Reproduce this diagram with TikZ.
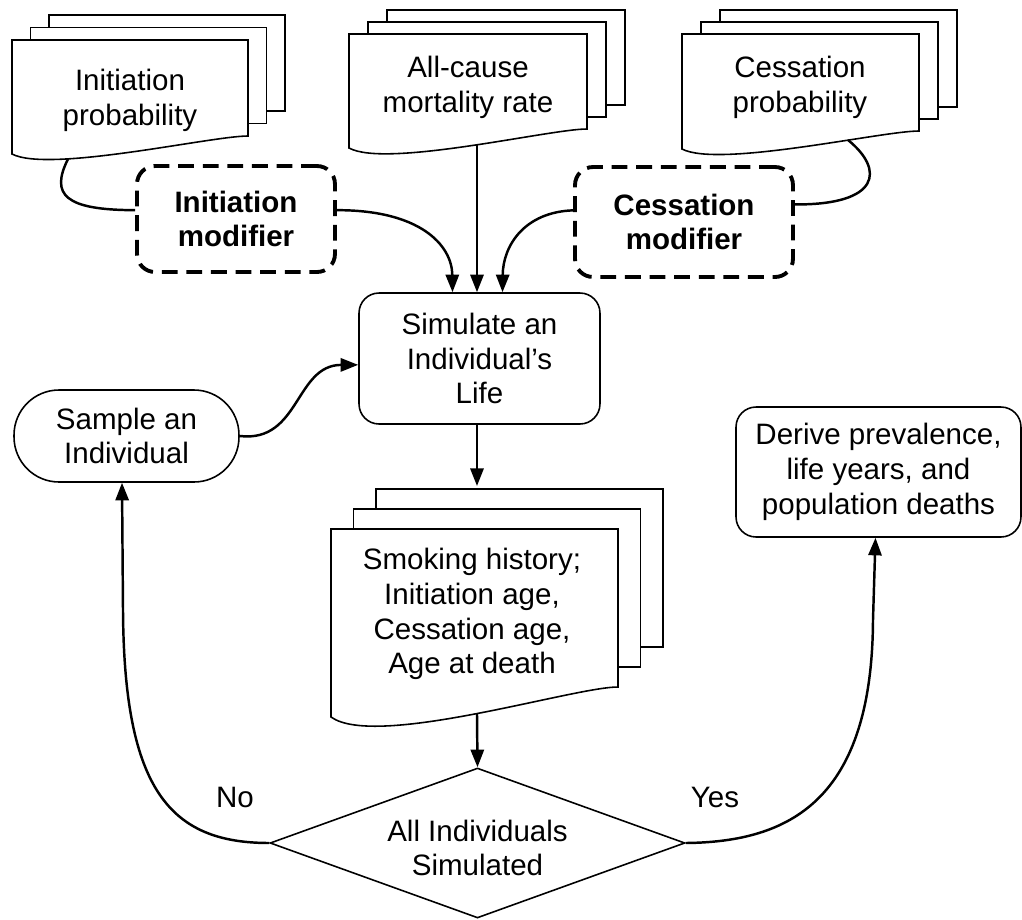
\documentclass[tikz,border=0pt]{standalone}
\usepackage{fontspec}
\setmainfont{Liberation Sans}
\usepackage{xcolor}
\usetikzlibrary{arrows.meta,shapes.geometric}

\tikzset{
    sheet/.style={draw, line width=0.9pt, fill=white},
    txt/.style={align=center},
    box/.style={draw, line width=0.9pt, rounded corners=0.4cm, align=center, inner sep=0pt},
    modbox/.style={draw, line width=2.2pt, dash pattern=on 9pt off 5pt, rounded corners=0.36cm,
        align=center, inner sep=0pt, font=\fontsize{16.8}{19.8}\selectfont\bfseries},
    link/.style={line width=1.4pt},
    flow/.style={line width=1.4pt, -{Triangle[length=10pt, width=7.5pt]}}
}

% #1,#2 top left of the front sheet, #3,#4 right end of its wavy bottom,
% #5,#6 shift of each sheet behind it, #7 depth of the wave
\newcommand{\docstack}[7]{%
    \draw[sheet] ({#1+2*(#5)},{#2+2*(#6)}) rectangle ({#3+2*(#5)},{#4+2*(#6)});
    \draw[sheet] ({#1+(#5)},{#2+(#6)}) rectangle ({#3+(#5)},{#4+(#6)});
    \draw[sheet] (#1,#2) -- (#3,#2) -- (#3,#4)
        .. controls ({#3-0.156*(#3-#1)},#4) and ({#1+0.156*(#3-#1)},{#4+2.07*(#7)}) .. (#1,{#4+(#7)}) -- cycle;
}

\begin{document}
\begin{tikzpicture}[x=0.02cm, y=-0.02cm, font=\fontsize{16.8}{19.8}\selectfont]
    \useasboundingbox (0,0) rectangle (1022,920);

    \docstack{12}{40}{248}{136}{18.5}{-12.5}{18}
    \docstack{349}{34}{587}{129}{19}{-12}{19}
    \docstack{682}{34}{919}{131}{19}{-12}{18}
    \docstack{331}{529}{618}{687}{22.5}{-20}{30}

    \node[txt] (inip) at (130,100) {Initiation\\probability};
    \node[txt] (allp) at (468,87) {All-cause\\mortality rate};
    \node[txt] (cesp) at (800,87) {Cessation\\probability};
    \node[txt] (outp) at (472,614) {Smoking history;\\Initiation age,\\Cessation age,\\Age at death};

    \coordinate (inip-out) at (68,159);
    \coordinate (allp-out) at (477,144);
    \coordinate (cesp-out) at (848,140);
    \coordinate (outp-in) at (477,486);
    \coordinate (outp-out) at (477,714);

    \node[modbox, minimum width=3.96cm, minimum height=2.12cm] (inimod) at (236,219) {Initiation\\modifier};
    \node[modbox, minimum width=4.36cm, minimum height=2.2cm] (cesmod) at (684,222) {Cessation\\modifier};

    \node[box, minimum width=4.82cm, minimum height=2.62cm] (sim) at (479.5,358.5) {Simulate an\\Individual's\\Life};
    \node[box, rounded corners=0.9cm, minimum width=4.5cm, minimum height=1.84cm] (smp) at (126.5,436) {Sample an\\Individual};
    \node[box, minimum width=5.7cm, minimum height=2.6cm] (der) at (878.5,472) {Derive prevalence,\\life years, and\\population deaths};

    \node[draw, diamond, line width=0.9pt, inner sep=0pt, minimum width=8.3cm, minimum height=3cm] (dec) at (477.5,843) {};
    \node[txt] (dect) at (477.5,848) {All Individuals\\Simulated};

    \node (no) at (235,797) {No};
    \node (yes) at (715,797) {Yes};

    \draw[link] (inip-out) .. controls (50,195) and (65,210) .. (inimod.175);
    \draw[link] (cesp-out) .. controls (885,170) and (880,205) .. (cesmod.9);

    \draw[flow] (inimod.5) .. controls (420,210) and (452,245) .. ([xshift=-0.54cm]sim.north);
    \draw[flow] (allp-out) -- (allp-out |- sim.north);
    \draw[flow] (cesmod.174) .. controls (525,212) and (503,245) .. ([xshift=0.46cm]sim.north);

    \draw[flow] (smp.east) .. controls (300,443) and (295,365) .. (sim.183);
    \draw[flow] (sim.south -| outp-in) -- (outp-in);
    \draw[flow] (outp-out) -- (dec.north);

    \draw[flow] (dec.west) .. controls (170,843) and (124,790) .. (123,610) -- ([xshift=-0.09cm]smp.south);
    \draw[flow] (dec.east) .. controls (790,842) and (872,800) .. (873,620) -- ([xshift=-0.06cm]der.south);
\end{tikzpicture}
\end{document}
